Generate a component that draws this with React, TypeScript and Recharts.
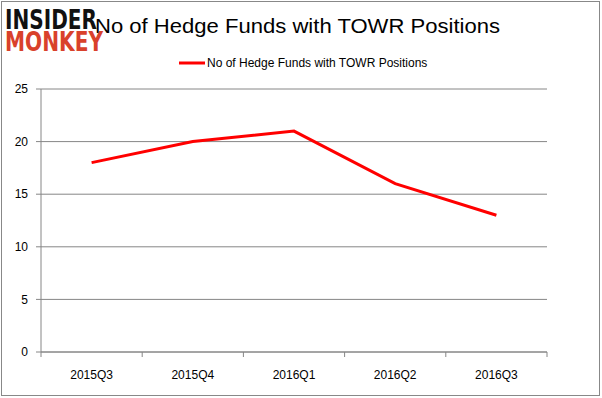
import React from 'react';
import {
  LineChart,
  Line,
  XAxis,
  YAxis,
  CartesianGrid,
  Legend
} from 'recharts';

const quarters = ['2015Q3', '2015Q4', '2016Q1', '2016Q2', '2016Q3'];
const hedgeFunds = [18, 20, 21, 16, 13];
const yTicks = [0, 5, 10, 15, 20, 25];
const boundaryTicks = [-0.5, 0.5, 1.5, 2.5, 3.5, 4.5];
const labelTicks = [0, 1, 2, 3, 4];

const SERIES = 'No of Hedge Funds with TOWR Positions';
const GRID = '#868686';
const FONT = '"Liberation Sans", Arial, sans-serif';

const data = quarters.map((q, i) => ({ idx: i, quarter: q, value: hedgeFunds[i] }));

const LegendBox = () => (
  <div style={{ paddingLeft: 179, display: 'flex', alignItems: 'center', height: 18, fontFamily: FONT, fontSize: 12, color: '#000' }}>
    <svg width={26} height={6} style={{ marginRight: 2 }}>
      <line x1={0} y1={3} x2={26} y2={3} stroke="#FF0000" strokeWidth={3} />
    </svg>
    <span>{SERIES}</span>
  </div>
);

export default function App() {
  return (
    <div style={{ position: 'absolute', left: 0, top: 0, width: 602, height: 398, background: '#fff' }}>
      <LineChart
        width={602}
        height={398}
        data={data}
        margin={{ top: 54, right: 55, bottom: 16, left: 0 }}
      >
        <CartesianGrid vertical={false} stroke={GRID} xAxisId="grid" />
        <Legend verticalAlign="top" align="left" height={35} content={<LegendBox />} />
        <XAxis
          xAxisId="grid"
          type="number"
          dataKey="idx"
          domain={[-0.5, 4.5]}
          ticks={boundaryTicks}
          tickFormatter={() => ''}
          height={6}
          tickSize={5}
          axisLine={{ stroke: GRID }}
          tickLine={{ stroke: GRID }}
        />
        <XAxis
          xAxisId="labels"
          type="number"
          dataKey="idx"
          domain={[-0.5, 4.5]}
          ticks={labelTicks}
          tickFormatter={(v: number) => quarters[v]}
          height={24}
          axisLine={false}
          tickLine={false}
          tickSize={6}
          tickMargin={6}
          tick={{ fill: '#000', fontSize: 12, fontFamily: FONT }}
        />
        <YAxis
          domain={[0, 25]}
          ticks={yTicks}
          width={41}
          tickSize={5}
          tickMargin={8}
          axisLine={{ stroke: GRID }}
          tickLine={{ stroke: GRID }}
          tick={{ fill: '#000', fontSize: 12, fontFamily: FONT }}
        />
        <Line
          xAxisId="grid"
          type="linear"
          dataKey="value"
          name={SERIES}
          stroke="#FF0000"
          strokeWidth={3}
          dot={false}
          isAnimationActive={false}
        />
      </LineChart>
      <svg width={602} height={398} style={{ position: 'absolute', left: 0, top: 0, pointerEvents: 'none' }}>
        <text x={95} y={33} fontFamily={FONT} fontSize={20} fill="#000" textLength={405} lengthAdjust="spacingAndGlyphs">
          {SERIES}
        </text>
        <text x={5} y={29} fontFamily='"DejaVu Sans", sans-serif' fontWeight="bold" fontSize={26} fill="#111" textLength={92} lengthAdjust="spacingAndGlyphs">
          INSIDER
        </text>
        <text x={5} y={51} fontFamily='"DejaVu Sans", sans-serif' fontWeight="bold" fontSize={27} fill="#d9412b" textLength={98} lengthAdjust="spacingAndGlyphs">
          MONKEY
        </text>
        <rect x={1.5} y={1.5} width={598} height={394} fill="none" stroke="#888" strokeWidth={1} />
      </svg>
    </div>
  );
}
